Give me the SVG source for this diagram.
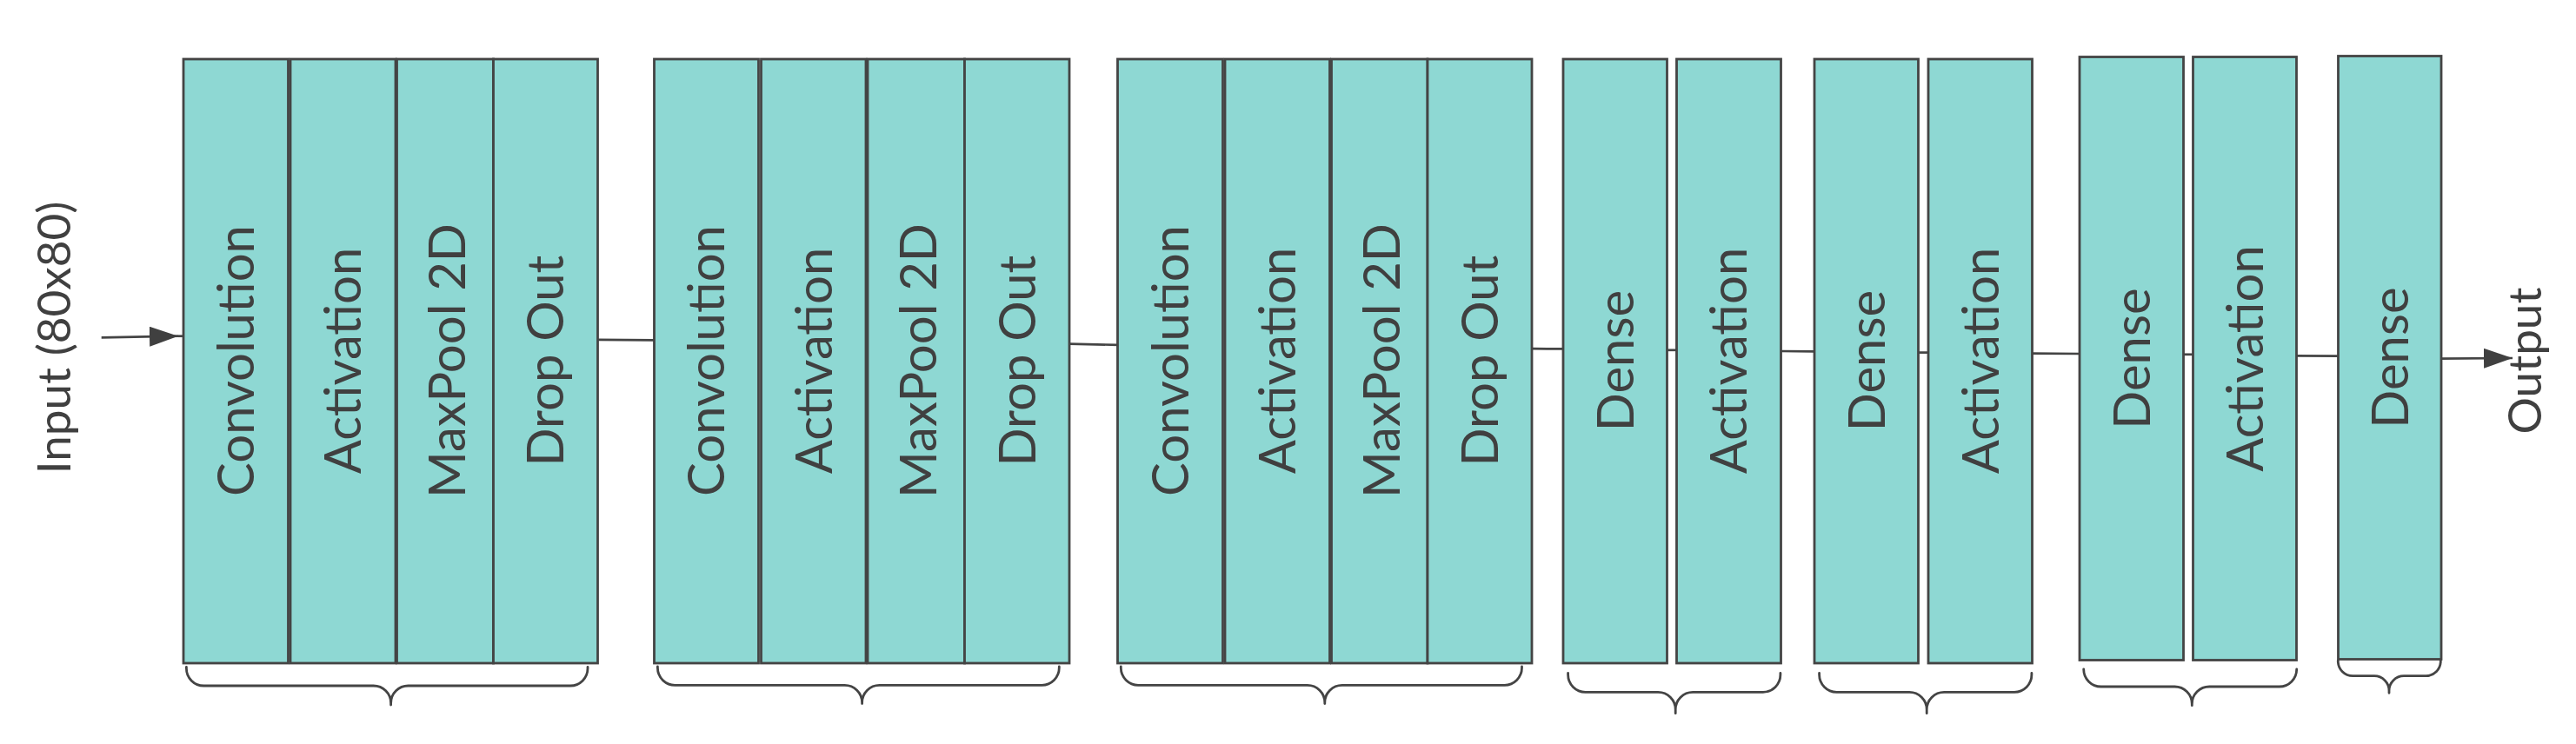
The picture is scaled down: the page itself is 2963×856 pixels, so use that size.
<svg xmlns="http://www.w3.org/2000/svg" width="2963" height="856" viewBox="0 0 2963 856">
<defs>
<style>
.box{fill:#8ED8D3;stroke:#444444;stroke-width:2.8}
.lbl{font-family:Lato,"Open Sans","Liberation Sans",sans-serif;font-size:58px;fill:#404040;text-anchor:middle}
.io{font-family:Lato,"Open Sans","Liberation Sans",sans-serif;font-size:53px;fill:#404040;text-anchor:middle}
.con{fill:none;stroke:#444444;stroke-width:2.7}
.brace{fill:none;stroke:#444444;stroke-width:2.8;stroke-linecap:round;stroke-linejoin:round}
</style>
<marker id="arr" viewBox="0 0 33 23" refX="33" refY="11.5" markerWidth="33" markerHeight="23" markerUnits="userSpaceOnUse" orient="auto">
<path d="M0,0 L33,11.5 L0,23 Z" fill="#404040"/>
</marker>
</defs>
<rect width="2963" height="856" fill="#FFFFFF"/>

<g id="connectors">
<line class="con" x1="116.7" y1="388.3" x2="205" y2="386.7" marker-end="url(#arr)"/>
<line class="con" x1="205" y1="386.7" x2="211" y2="386.7"/>
<line class="con" x1="687.5" y1="390.8" x2="752.5" y2="391.4"/>
<line class="con" x1="1230" y1="395.7" x2="1285.5" y2="396.8"/>
<line class="con" x1="1762" y1="401.2" x2="1798" y2="401.4"/>
<line class="con" x1="1917.5" y1="402.8" x2="1928.5" y2="402.8"/>
<line class="con" x1="2048.5" y1="404" x2="2087" y2="404.4"/>
<line class="con" x1="2206.5" y1="405.6" x2="2218" y2="405.6"/>
<line class="con" x1="2337.5" y1="406.7" x2="2392" y2="407"/>
<line class="con" x1="2511.5" y1="407.8" x2="2522.5" y2="407.8"/>
<line class="con" x1="2641.5" y1="409.4" x2="2689.5" y2="409.6"/>
<line class="con" x1="2804" y1="412.7" x2="2890" y2="412" marker-end="url(#arr)"/>
</g>

<g id="input-label">
<text class="io" transform="translate(80.7,388.4) rotate(-90)">Input (80x80)</text>
</g>

<g id="block1">
<rect id="b1-conv" class="box" x="211" y="68" width="120.5" height="695"/>
<rect id="b1-act" class="box" x="334" y="68" width="121" height="695"/>
<rect id="b1-pool" class="box" x="456.5" y="68" width="111" height="695"/>
<rect id="b1-drop" class="box" x="567.5" y="68" width="120" height="695"/>
<text class="lbl" transform="translate(292,415) rotate(-90)">Convolution</text>
<text class="lbl" transform="translate(415.3,415) rotate(-90)">Activation</text>
<text class="lbl" transform="translate(534.8,415) rotate(-90)">MaxPool 2D</text>
<text class="lbl" transform="translate(648.3,415) rotate(-90)">Drop Out</text>
</g>

<g id="block2">
<rect id="b2-conv" class="box" x="752.5" y="68" width="120" height="695"/>
<rect id="b2-act" class="box" x="875.5" y="68" width="120.5" height="695"/>
<rect id="b2-pool" class="box" x="998" y="68" width="111.5" height="695"/>
<rect id="b2-drop" class="box" x="1109.5" y="68" width="120.5" height="695"/>
<text class="lbl" transform="translate(833.3,415) rotate(-90)">Convolution</text>
<text class="lbl" transform="translate(956.6,415) rotate(-90)">Activation</text>
<text class="lbl" transform="translate(1076.6,415) rotate(-90)">MaxPool 2D</text>
<text class="lbl" transform="translate(1190.6,415) rotate(-90)">Drop Out</text>
</g>

<g id="block3">
<rect id="b3-conv" class="box" x="1285.5" y="68" width="121" height="695"/>
<rect id="b3-act" class="box" x="1409" y="68" width="120.5" height="695"/>
<rect id="b3-pool" class="box" x="1531.5" y="68" width="110.5" height="695"/>
<rect id="b3-drop" class="box" x="1642" y="68" width="120" height="695"/>
<text class="lbl" transform="translate(1366.8,415) rotate(-90)">Convolution</text>
<text class="lbl" transform="translate(1490,415) rotate(-90)">Activation</text>
<text class="lbl" transform="translate(1609.6,415) rotate(-90)">MaxPool 2D</text>
<text class="lbl" transform="translate(1722.8,415) rotate(-90)">Drop Out</text>
</g>

<g id="block4">
<rect id="b4-dense" class="box" x="1798" y="68" width="119.5" height="695"/>
<rect id="b4-act" class="box" x="1928.5" y="68" width="120" height="695"/>
<text class="lbl" transform="translate(1878.6,415) rotate(-90)">Dense</text>
<text class="lbl" transform="translate(2009.3,415) rotate(-90)">Activation</text>
</g>

<g id="block5">
<rect id="b5-dense" class="box" x="2087" y="68" width="119.5" height="695"/>
<rect id="b5-act" class="box" x="2218" y="68" width="119.5" height="695"/>
<text class="lbl" transform="translate(2167.6,415) rotate(-90)">Dense</text>
<text class="lbl" transform="translate(2298.6,415) rotate(-90)">Activation</text>
</g>

<g id="block6">
<rect id="b6-dense" class="box" x="2392" y="65.5" width="119.5" height="694"/>
<rect id="b6-act" class="box" x="2522.5" y="65.5" width="119" height="694"/>
<text class="lbl" transform="translate(2472.6,412.5) rotate(-90)">Dense</text>
<text class="lbl" transform="translate(2602.8,412.5) rotate(-90)">Activation</text>
</g>

<g id="block7">
<rect id="b7-dense" class="box" x="2689.5" y="64.5" width="118.5" height="694"/>
<text class="lbl" transform="translate(2769.6,411.5) rotate(-90)">Dense</text>
</g>

<g id="output-label">
<text class="io" transform="translate(2922.7,415) rotate(-90)">Output</text>
</g>

<g id="braces">
<path class="brace" d="M214.4,767.5 V769 A20,20 0 0 0 234.4,789 H429.6 A20,20 0 0 1 449.6,809 V811 M449.6,809 A20,20 0 0 1 469.6,789 H656 A20,20 0 0 0 676,769 V767.5"/>
<path class="brace" d="M756.4,767 V768.3 A20,20 0 0 0 776.4,788.3 H971.6 A20,20 0 0 1 991.6,808.3 V809.5 M991.6,808.3 A20,20 0 0 1 1011.6,788.3 H1198.3 A20,20 0 0 0 1218.3,768.3 V767"/>
<path class="brace" d="M1289.3,767 V768.3 A20,20 0 0 0 1309.3,788.3 H1503.8 A20,20 0 0 1 1523.8,808.3 V809.5 M1523.8,808.3 A20,20 0 0 1 1543.8,788.3 H1730.5 A20,20 0 0 0 1750.5,768.3 V767"/>
<path class="brace" d="M1803.6,774.5 V776.3 A20,20 0 0 0 1823.6,796.3 H1907.2 A20,20 0 0 1 1927.2,816.3 V820.7 M1927.2,816.3 A20,20 0 0 1 1947.2,796.3 H2027.9 A20,20 0 0 0 2047.9,776.3 V774.5"/>
<path class="brace" d="M2092.6,774.5 V776.3 A20,20 0 0 0 2112.6,796.3 H2196.2 A20,20 0 0 1 2216.2,816.3 V820.7 M2216.2,816.3 A20,20 0 0 1 2236.2,796.3 H2316.9 A20,20 0 0 0 2336.9,776.3 V774.5"/>
<path class="brace" d="M2396.7,770 V770 A20,20 0 0 0 2416.7,790 H2501.3 A20,20 0 0 1 2521.3,810 V811.7 M2521.3,810 A20,20 0 0 1 2541.3,790 H2621.7 A20,20 0 0 0 2641.7,770 V770"/>
<path class="brace" d="M2689.3,760 V760.7 A17,17 0 0 0 2706.3,777.7 H2731 A17,17 0 0 1 2748,794.7 V797.3 M2748,794.7 A17,17 0 0 1 2765,777.7 H2790.3 A17,17 0 0 0 2807.3,760.7 V760"/>
</g>
</svg>
